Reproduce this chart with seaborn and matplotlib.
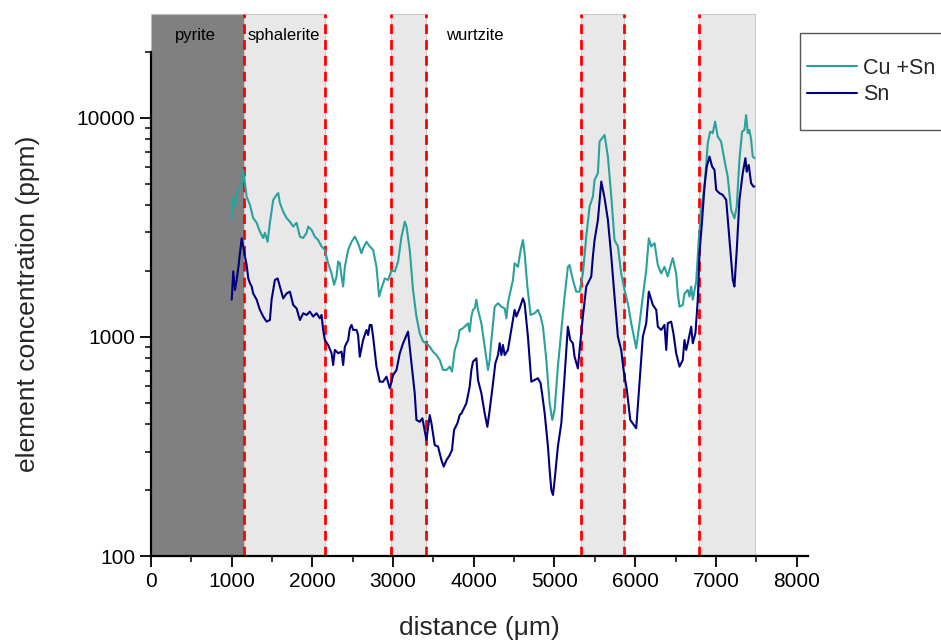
"""Cu+Sn and Sn concentration profile across pyrite / sphalerite / wurtzite zones."""

import matplotlib.pyplot as plt
import matplotlib.ticker as mticker
import numpy as np
import pandas as pd
import seaborn as sns
from matplotlib.patches import Rectangle

# ---- data ----
cusn_distance = [
    1000, 1019, 1040, 1061, 1089, 1123, 1143, 1164, 1185, 1226, 1266, 1309, 1349, 1390,
    1411, 1445, 1473, 1514, 1556, 1576, 1597, 1638, 1680, 1721, 1762, 1804, 1845, 1886,
    1928, 1947, 1990, 2030, 2071, 2113, 2154, 2195, 2237, 2269, 2299, 2319, 2340, 2361,
    2381, 2402, 2443, 2485, 2526, 2566, 2608, 2628, 2670, 2711, 2752, 2794, 2826, 2856,
    2897, 2938, 2980, 3021, 3062, 3104, 3145, 3166, 3206, 3247, 3289, 3330, 3371, 3413,
    3454, 3495, 3537, 3578, 3619, 3661, 3702, 3730, 3764, 3804, 3825, 3866, 3908, 3928,
    3949, 3970, 3990, 4011, 4032, 4052, 4094, 4135, 4176, 4197, 4218, 4259, 4300, 4342,
    4383, 4404, 4423, 4444, 4485, 4506, 4547, 4581, 4609, 4630, 4664, 4704, 4754, 4795,
    4828, 4857, 4899, 4940, 4973, 5002, 5042, 5085, 5125, 5166, 5187, 5228, 5270, 5311,
    5352, 5394, 5435, 5476, 5497, 5538, 5559, 5621, 5662, 5704, 5744, 5786, 5827, 5868,
    5909, 5951, 6013, 6054, 6095, 6137, 6169, 6199, 6240, 6281, 6323, 6363, 6404, 6446,
    6466, 6508, 6528, 6549, 6590, 6611, 6652, 6673, 6694, 6714, 6756, 6788, 6818, 6859,
    6900, 6930, 6961, 6991, 7023, 7065, 7106, 7147, 7189, 7230, 7259, 7292, 7325, 7354,
    7375, 7395, 7416, 7437, 7457, 7478,
]
cusn_ppm = [
    3420, 4370, 3880, 4540, 4690, 5120, 5790, 5050, 4370, 4010, 3490, 3320, 3030, 2830,
    2990, 2720, 3320, 4220, 4450, 4540, 4090, 3730, 3490, 3360, 3190, 3320, 2870, 2830,
    2990, 3190, 3080, 2870, 2770, 2590, 2500, 2170, 1950, 1730, 1890, 2210, 2170, 1890,
    1700, 2090, 2500, 2720, 2870, 2680, 2410, 2540, 2720, 2590, 2500, 2090, 1530, 1670,
    1850, 1820, 2020, 1990, 2210, 2870, 3360, 3190, 2500, 1640, 1240, 1040, 953, 936,
    903, 857, 827, 785, 707, 707, 732, 695, 873, 969, 1077, 1096, 1135, 1155,
    1058, 1240, 1330, 1350, 1480, 1330, 1155, 903, 707, 785, 969, 1375, 1425, 1375,
    1350, 1217, 1425, 1555, 1820, 2170, 2090, 2500, 2770, 2410, 1700, 1260, 1283, 1330,
    1240, 1114, 785, 498, 418, 464, 732, 1077, 1530, 2090, 2130, 1820, 1610, 1610,
    1950, 2870, 3940, 4370, 5210, 5590, 7800, 8360, 6660, 4370, 2770, 2590, 1950, 1640,
    1425, 1155, 888, 1155, 1530, 2020, 2820, 2590, 2680, 2130, 1950, 2090, 1890, 2170,
    2290, 1950, 1580, 1375, 1400, 1580, 1640, 1530, 1700, 1480, 1790, 2770, 3800, 4860,
    7670, 8660, 8520, 9620, 8220, 7800, 6430, 5390, 3800, 3480, 3940, 6430, 8660, 8810,
    10300, 8520, 8810, 7940, 6660, 6550,
]

sn_distance = [
    1000, 1019, 1040, 1061, 1081, 1102, 1123, 1143, 1164, 1185, 1205, 1226, 1247, 1266,
    1309, 1349, 1390, 1432, 1473, 1494, 1535, 1569, 1597, 1638, 1680, 1721, 1762, 1804,
    1845, 1886, 1928, 1968, 2009, 2051, 2092, 2113, 2133, 2154, 2195, 2237, 2257, 2278,
    2319, 2361, 2381, 2402, 2443, 2464, 2485, 2505, 2547, 2566, 2587, 2628, 2670, 2690,
    2711, 2732, 2752, 2794, 2835, 2876, 2918, 2959, 3000, 3042, 3083, 3124, 3185, 3227,
    3268, 3289, 3330, 3363, 3413, 3454, 3475, 3516, 3557, 3599, 3627, 3661, 3702, 3730,
    3755, 3797, 3825, 3847, 3887, 3908, 3949, 3970, 3990, 4032, 4052, 4094, 4135, 4168,
    4197, 4238, 4267, 4300, 4321, 4342, 4361, 4383, 4423, 4465, 4506, 4528, 4568, 4609,
    4630, 4671, 4713, 4754, 4795, 4828, 4857, 4878, 4919, 4940, 4961, 4981, 5002, 5042,
    5085, 5125, 5166, 5196, 5228, 5249, 5290, 5311, 5352, 5394, 5435, 5456, 5476, 5497,
    5538, 5580, 5621, 5662, 5704, 5744, 5786, 5827, 5856, 5897, 5939, 6013, 6054, 6095,
    6137, 6169, 6219, 6261, 6281, 6323, 6363, 6385, 6404, 6446, 6474, 6508, 6549, 6590,
    6611, 6632, 6652, 6694, 6714, 6747, 6776, 6797, 6830, 6859, 6887, 6921, 6954, 6983,
    7004, 7045, 7086, 7128, 7169, 7210, 7230, 7259, 7292, 7333, 7366, 7382, 7407, 7437,
    7466, 7478,
]
sn_ppm = [
    1480, 1990, 1640, 1820, 2060, 2410, 2820, 2590, 2330, 2130, 1850, 1760, 1700, 1580,
    1480, 1330, 1240, 1175, 1195, 1480, 1820, 1850, 1700, 1500, 1580, 1610, 1400, 1350,
    1195, 1283, 1260, 1305, 1240, 1283, 1217, 1260, 1077, 969, 919, 843, 745, 873,
    843, 857, 745, 903, 969, 1096, 1135, 1077, 1077, 1021, 813, 969, 1077, 1021,
    1135, 1135, 1003, 732, 625, 625, 659, 583, 670, 707, 843, 936, 1058, 758,
    553, 418, 410, 425, 339, 440, 404, 321, 316, 274, 256, 274, 289, 305,
    376, 404, 440, 448, 481, 498, 593, 707, 771, 799, 636, 553, 448, 389,
    464, 615, 758, 827, 936, 827, 919, 827, 873, 1077, 1330, 1240, 1350, 1500,
    1425, 1003, 625, 636, 648, 615, 516, 450, 316, 247, 200, 190, 222, 316,
    405, 659, 1114, 969, 936, 813, 719, 873, 1240, 1700, 1820, 1890, 2330, 2770,
    3420, 5120, 4300, 3420, 2330, 1530, 1003, 873, 707, 573, 418, 383, 615, 1003,
    1155, 1610, 1400, 1330, 1114, 1077, 1135, 873, 1155, 1175, 1040, 843, 732, 785,
    969, 873, 936, 1114, 936, 1040, 1480, 2410, 3420, 4860, 5990, 6660, 5990, 5790,
    4690, 4530, 4450, 4220, 2770, 1820, 1700, 2500, 4220, 5590, 6550, 5680, 6100, 5030,
    4860, 4860,
]

series_names = ["Cu +Sn", "Sn"]
series_colors = {"Cu +Sn": "#2aa19c", "Sn": "#00007f"}

# zone boundaries (µm) and labels
pyrite_zone = (0, 1150)
light_zones = [(1150, 2150), (2980, 3410), (5330, 5860), (6790, 7490)]
boundaries = [1150, 2150, 2980, 3410, 5330, 5860, 6790]
zone_labels = ["pyrite", "sphalerite", "wurtzite"]
zone_label_x = [545, 1640, 4010]

x_ticks = list(range(0, 9000, 1000))
y_ticks = [100, 1000, 10000]
y_tick_labels = ["100", "1000", "10000"]

df = pd.concat([
    pd.DataFrame({"distance": cusn_distance, "ppm": cusn_ppm, "element": series_names[0]}),
    pd.DataFrame({"distance": sn_distance, "ppm": sn_ppm, "element": series_names[1]}),
])

sns.set_theme(style="ticks")
plt.rcParams["font.family"] = ["Liberation Sans", "DejaVu Sans"]

fig = plt.figure(figsize=(9.41, 6.44), dpi=100)
ax = fig.add_axes([0.1605, 0.1366, 0.698, 0.7827])

top = 1.075  # shaded zones reach above the plotting area
ax.axvspan(*pyrite_zone, ymin=0, ymax=top, color="#808080", ec="#bdbdbd", lw=0.8,
           clip_on=False, zorder=0)
for x0, x1 in light_zones:
    ax.axvspan(x0, x1, ymin=0, ymax=top, fc="#e8e8e8", ec="#c9c9c9", lw=0.8,
               clip_on=False, zorder=0)
for b in boundaries:
    ax.axvline(b, ymin=0, ymax=top, color="#ff0000", lw=2.0, dashes=(3.5, 2.2),
               clip_on=False, zorder=1)

sns.lineplot(data=df, x="distance", y="ppm", hue="element", palette=series_colors,
             estimator=None, lw=1.5, ax=ax, zorder=3)

for lab, xl in zip(zone_labels, zone_label_x):
    ax.text(xl, 1.033, lab, transform=ax.get_xaxis_transform(), ha="center",
            va="center", fontsize=12, color="black")

ax.set_yscale("log")
ax.set_xlim(0, 8140)
ax.set_ylim(100, 20000)
ax.set_xticks(x_ticks)
ax.xaxis.set_minor_locator(mticker.MultipleLocator(500))
ax.set_yticks(y_ticks, labels=y_tick_labels)
ax.yaxis.set_minor_locator(mticker.LogLocator(base=10, subs=np.arange(2, 10)))
ax.yaxis.set_minor_formatter(mticker.NullFormatter())

ax.tick_params(which="major", direction="out", length=8, width=1.3, labelsize=15,
               colors="black")
ax.tick_params(which="minor", direction="out", length=4.5, width=1.3)
for side in ["top", "right"]:
    ax.spines[side].set_visible(False)
for side in ["left", "bottom"]:
    ax.spines[side].set_linewidth(1.6)
    ax.spines[side].set_color("black")
    ax.spines[side].set_zorder(4)

ax.set_xlabel("distance (μm)", fontsize=19, labelpad=18)
ax.set_ylabel("element concentration (ppm)", fontsize=19, labelpad=26)
ax.set_facecolor("white")

# legend sits outside the axes, with a plain box drawn behind it
sns.move_legend(ax, "upper left", bbox_to_anchor=(0.837, 0.94),
                bbox_transform=fig.transFigure, title=None, frameon=False,
                fontsize=15.5, handlelength=2.3, handletextpad=0.3, labelspacing=0.25)
for line in ax.get_legend().get_lines():
    line.set_linewidth(1.5)
fig.patches.append(Rectangle((800 / 941, 1 - 130 / 644), 0.17, 97 / 644,
                             transform=fig.transFigure, fill=False, ec="#555555",
                             lw=1.0, zorder=5))

fig.savefig("out.png", dpi=100)
plt.close(fig)
